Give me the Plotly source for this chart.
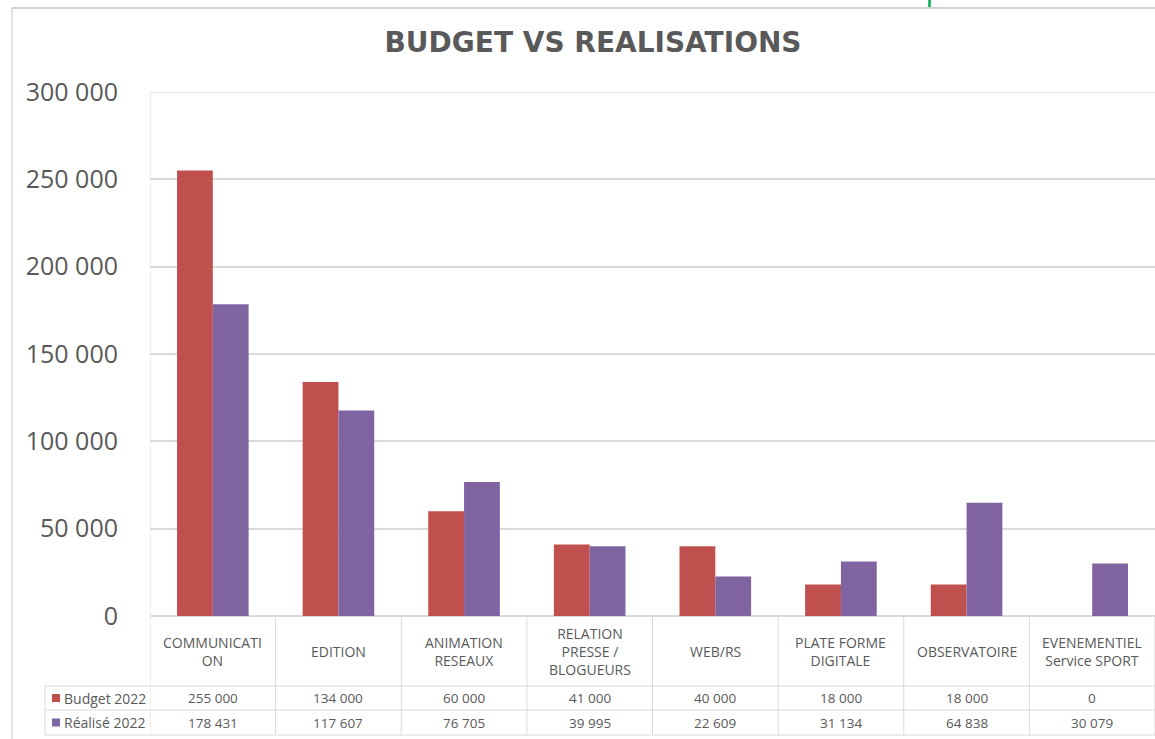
import plotly.graph_objects as go

# ---- data ----
categories = ["COMMUNICATION", "EDITION", "ANIMATION RESEAUX", "RELATION PRESSE / BLOGUEURS",
              "WEB/RS", "PLATE FORME DIGITALE", "OBSERVATOIRE", "EVENEMENTIEL Service SPORT"]
category_labels = ["COMMUNICATI<br>ON", "EDITION", "ANIMATION<br>RESEAUX", "RELATION<br>PRESSE /<br>BLOGUEURS",
                   "WEB/RS", "PLATE FORME<br>DIGITALE", "OBSERVATOIRE", "EVENEMENTIEL<br>Service SPORT"]
budget_2022 = [255000, 134000, 60000, 41000, 40000, 18000, 18000, 0]
realise_2022 = [178431, 117607, 76705, 39995, 22609, 31134, 64838, 30079]
series_names = ["Budget 2022", "Réalisé 2022"]
y_ticks = [0, 50000, 100000, 150000, 200000, 250000, 300000]

RED = "#C0504D"
PURPLE = "#8064A2"
GRID = "#D9D9D9"
TXT = "#595959"
FONT = "Open Sans"

W, H = 1155, 739
L, R, T, B = 150, 0, 92, 123
PW = W - L - R
PH = H - T - B


def px_x(px):
    return (px - L) / PW


def px_y(py):
    return (H - B - py) / PH


def fmt(v):
    return f"{v:,}".replace(",", " ")


fig = go.Figure()
fig.add_trace(go.Bar(x=categories, y=budget_2022, name=series_names[0], marker_color=RED,
                     marker_line_width=0))
fig.add_trace(go.Bar(x=categories, y=realise_2022, name=series_names[1], marker_color=PURPLE,
                     marker_line_width=0))

shapes = []
annotations = []

# table geometry (pixel rows)
row_cat_bottom = 686
row1_bottom = 710
row2_bottom = 735
table_left = 45

# top gridline
shapes.append(dict(type="line", xref="paper", yref="y", x0=0, x1=1, y0=y_ticks[-1], y1=y_ticks[-1],
                   line=dict(color=GRID, width=1.5)))

# horizontal table lines
for py in (row_cat_bottom, row1_bottom, row2_bottom):
    shapes.append(dict(type="line", xref="paper", yref="paper", x0=px_x(table_left), x1=1,
                       y0=px_y(py), y1=px_y(py), line=dict(color=GRID, width=1)))
# vertical lines at category boundaries
n = len(categories)
for i in range(n + 1):
    shapes.append(dict(type="line", xref="x", yref="paper", x0=i - 0.5, x1=i - 0.5,
                       y0=0 if i > 0 else 1, y1=px_y(row2_bottom), line=dict(color=GRID, width=1)))
shapes.append(dict(type="line", xref="paper", yref="paper", x0=px_x(table_left), x1=px_x(table_left),
                   y0=px_y(row_cat_bottom), y1=px_y(row2_bottom), line=dict(color=GRID, width=1)))

# chart outer border (top and left) and selection mark
shapes.append(dict(type="line", xref="paper", yref="paper", x0=px_x(12), x1=1.01,
                   y0=px_y(8), y1=px_y(8), line=dict(color="#D0D0D0", width=2)))
shapes.append(dict(type="line", xref="paper", yref="paper", x0=px_x(12), x1=px_x(12),
                   y0=px_y(8), y1=px_y(745), line=dict(color="#D9D9D9", width=1.5)))
shapes.append(dict(type="line", xref="paper", yref="paper", x0=px_x(929.5), x1=px_x(929.5),
                   y0=px_y(0), y1=px_y(7), line=dict(color="#00B050", width=2.5)))

# category labels and values
for i, cat in enumerate(categories):
    annotations.append(dict(x=cat, xref="x", y=px_y((616 + row_cat_bottom) / 2), yref="paper",
                            text=category_labels[i], showarrow=False, yanchor="middle",
                            font=dict(family=FONT, size=14, color=TXT), align="center"))
    annotations.append(dict(x=cat, xref="x", y=px_y((row_cat_bottom + row1_bottom) / 2), yref="paper",
                            text=fmt(budget_2022[i]), showarrow=False, yanchor="middle",
                            font=dict(family=FONT, size=13.5, color=TXT)))
    annotations.append(dict(x=cat, xref="x", y=px_y((row1_bottom + row2_bottom) / 2), yref="paper",
                            text=fmt(realise_2022[i]), showarrow=False, yanchor="middle",
                            font=dict(family=FONT, size=13.5, color=TXT)))

# legend keys in table
for name, col, (a, b) in zip(series_names, [RED, PURPLE],
                             [(row_cat_bottom, row1_bottom), (row1_bottom, row2_bottom)]):
    cy = (a + b) / 2
    shapes.append(dict(type="rect", xref="paper", yref="paper", x0=px_x(52), x1=px_x(60),
                       y0=px_y(cy - 4), y1=px_y(cy + 4), fillcolor=col, line=dict(width=0)))
    annotations.append(dict(x=px_x(62), xref="paper", y=px_y(cy), yref="paper",
                            text=name, showarrow=False,
                            xanchor="left", yanchor="middle",
                            font=dict(family=FONT, size=14, color=TXT)))

fig.update_layout(
    width=W, height=H,
    margin=dict(l=L, r=R, t=T, b=B),
    paper_bgcolor="white", plot_bgcolor="white",
    title=dict(text="<b>BUDGET VS REALISATIONS</b>", x=593 / W, xanchor="center",
               y=1 - 42 / H, yanchor="middle", font=dict(family="DejaVu Sans", size=28, color=TXT)),
    barmode="group", bargap=0.43, bargroupgap=0,
    showlegend=False,
    separators=", ",
    shapes=shapes,
    annotations=annotations,
    xaxis=dict(range=[-0.5, n - 0.5], showticklabels=False, showgrid=False, zeroline=False,
               ticks="", showline=False),
    yaxis=dict(range=[0, 300000], tickvals=y_ticks, ticktext=[fmt(v) for v in y_ticks],
               showgrid=True, gridcolor=GRID, gridwidth=1.5, zeroline=True, zerolinecolor=GRID,
               zerolinewidth=1.5, showline=False, ticks="", ticklabelstandoff=31,
               tickfont=dict(family=FONT, size=25, color=TXT)),
)

fig.write_html("out.html")
